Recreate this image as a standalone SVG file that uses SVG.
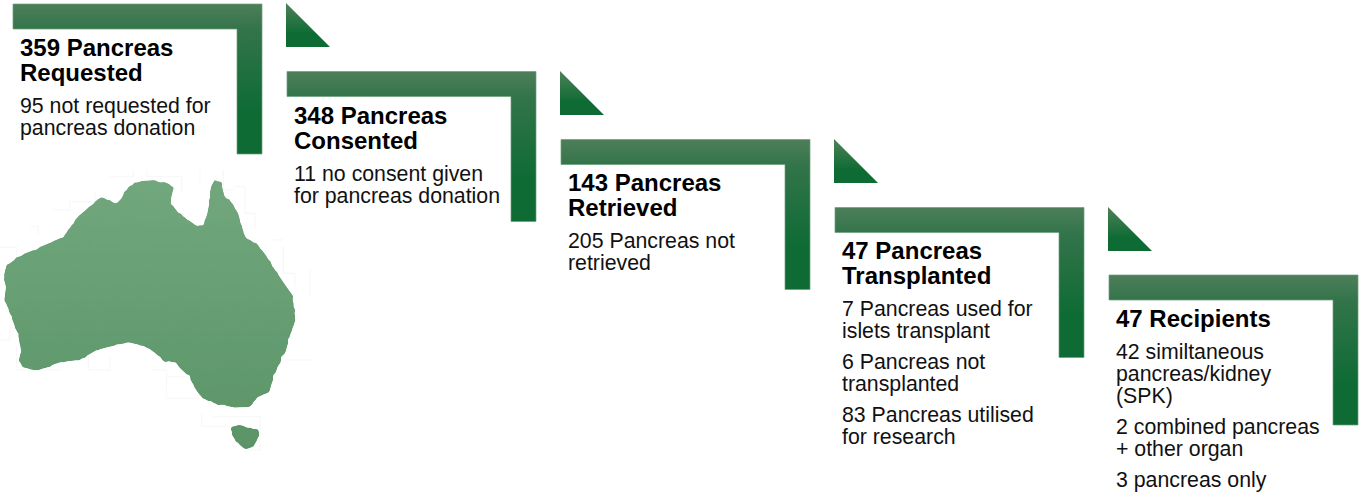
<svg xmlns="http://www.w3.org/2000/svg" width="1359" height="495" viewBox="0 0 1359 495">
<style>
.t{font-family:"Liberation Sans",Arial,sans-serif;font-size:24px;font-weight:bold;fill:#000}
.b{font-family:"Liberation Sans",Arial,sans-serif;font-size:21.3px;fill:#111}
.g{fill:url(#lg);stroke:#6a9f78;stroke-width:.7}
</style>
<defs>
<linearGradient id="lg" x1="0" y1="0" x2="0" y2="1"><stop offset="0" stop-color="#4d7f59"/><stop offset=".17" stop-color="#33744a"/><stop offset=".72" stop-color="#0e6b34"/><stop offset="1" stop-color="#0e6b34"/></linearGradient>
<linearGradient id="tg" x1="0" y1="0" x2="0" y2="1"><stop offset="0" stop-color="#4f8159"/><stop offset=".7" stop-color="#0e6b34"/><stop offset="1" stop-color="#0e6b34"/></linearGradient>
<linearGradient id="au" gradientUnits="userSpaceOnUse" x1="0" y1="60" x2="0" y2="870"><stop offset="0" stop-color="#72a77d"/><stop offset="1" stop-color="#5a9467"/></linearGradient>
<filter id="soft" x="-5%" y="-5%" width="110%" height="110%">
<feTurbulence type="fractalNoise" baseFrequency=".07" numOctaves="2" seed="4" result="n"/>
<feDisplacementMap in="SourceGraphic" in2="n" scale="9" xChannelSelector="R" yChannelSelector="G" result="d"/>
<feGaussianBlur in="d" stdDeviation="3.5" result="bl"/>
<feComponentTransfer><feFuncA type="linear" slope="4" intercept="-1.5"/></feComponentTransfer>
</filter>
<path id="L" d="M0 0H249V150H224V25H0Z"/>
<path id="T" d="M0 0L44 44H0Z"/>
</defs>
<g id="fringe" fill="none" stroke="#f4f4f4" stroke-width="2.500" transform="translate(0 160) scale(.33333)">
<path d="M330 50H400V30M440 30V50H545V100M670 30V90H700M600 30V70M160 150H210V125H285V95M90 200H115V225M0 262H50V285M15 400H30M0 540H30V490M50 560V630H180M265 590V630H330V590M455 630H500V715H590M500 650H560M605 760V800H690M640 770H780V870H740M850 260V340H885V380M930 330V410M860 600H935M820 240H850M700 80H735V160H765V205"/>
</g>
<g id="australia" fill="url(#au)" transform="translate(0 160) scale(.33333)" filter="url(#soft)">
<path d="M12 345L22 315L60 288L100 270L150 248L190 230L210 203L230 173L265 143L305 110L325 120L347 131L365 118L375 93L395 73L425 63L465 61L500 68L522 85L514 110L512 133L532 153L560 176L590 198L608 196L620 170L628 130L633 80L645 58L662 65L674 110L697 130L714 160L727 205L737 233L772 253L797 285L822 325L852 370L877 405L882 450L887 480L872 520L857 575L837 610L822 650L807 697L772 712L747 742L700 742L650 732L610 717L588 690L568 652L538 622L528 607L495 607L463 577L430 557L385 547L340 557L290 570L240 599L180 607L110 632L70 622L56 605L63 570L53 520L33 470L13 415L18 380L10 350Z"/>
<path d="M690 802L720 794L745 804L775 805L778 828L760 860L735 868L712 848L696 825Z"/>
</g>
<g id="connectors">
<use href="#T" x="286" y="3" fill="url(#tg)"/>
<use href="#T" x="560" y="71" fill="url(#tg)"/>
<use href="#T" x="834" y="139" fill="url(#tg)"/>
<use href="#T" x="1108" y="207" fill="url(#tg)"/>
</g>
<g id="node1">
<use href="#L" x="13" y="4" class="g"/>
<text class="t" x="20" y="56">359 Pancreas</text>
<text class="t" x="20" y="81">Requested</text>
<text class="b" x="20" y="113">95 not requested for</text>
<text class="b" x="20" y="135">pancreas donation</text>
</g>
<g id="node2">
<use href="#L" x="287" y="71.500" class="g"/>
<text class="t" x="294" y="124">348 Pancreas</text>
<text class="t" x="294" y="149">Consented</text>
<text class="b" x="294" y="181">11 no consent given</text>
<text class="b" x="294" y="203">for pancreas donation</text>
</g>
<g id="node3">
<use href="#L" x="561" y="139.500" class="g"/>
<text class="t" x="568" y="191">143 Pancreas</text>
<text class="t" x="568" y="216">Retrieved</text>
<text class="b" x="568" y="248">205 Pancreas not</text>
<text class="b" x="568" y="270">retrieved</text>
</g>
<g id="node4">
<use href="#L" x="835" y="207.500" class="g"/>
<text class="t" x="842" y="259">47 Pancreas</text>
<text class="t" x="842" y="284">Transplanted</text>
<text class="b" x="842" y="316">7 Pancreas used for</text>
<text class="b" x="842" y="338">islets transplant</text>
<text class="b" x="842" y="369">6 Pancreas not</text>
<text class="b" x="842" y="391">transplanted</text>
<text class="b" x="842" y="422">83 Pancreas utilised</text>
<text class="b" x="842" y="444">for research</text>
</g>
<g id="node5">
<use href="#L" x="1109" y="275" class="g"/>
<text class="t" x="1116" y="327">47 Recipients</text>
<text class="b" x="1116" y="359">42 similtaneous</text>
<text class="b" x="1116" y="381">pancreas/kidney</text>
<text class="b" x="1116" y="403">(SPK)</text>
<text class="b" x="1116" y="434">2 combined pancreas</text>
<text class="b" x="1116" y="456">+ other organ</text>
<text class="b" x="1116" y="487">3 pancreas only</text>
</g>
</svg>
